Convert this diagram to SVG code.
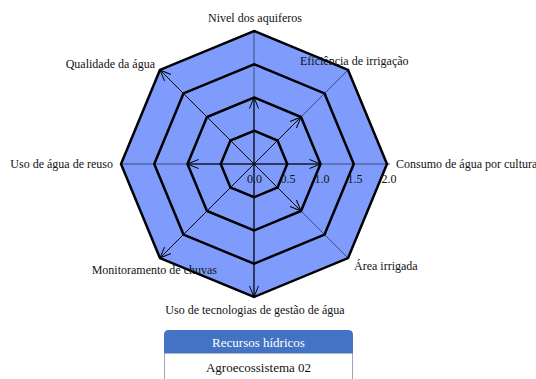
<svg xmlns="http://www.w3.org/2000/svg" width="536" height="379" viewBox="0 0 536 379">
<style>
.lbl{font-family:"Liberation Serif","Times New Roman",serif;font-size:12px;fill:#111}
.tick{font-family:"Liberation Serif","Times New Roman",serif;font-size:12px;fill:#111;text-anchor:middle}
.ring{fill:none;stroke:#000;stroke-width:2.5;stroke-linejoin:miter}
.axis{stroke:#3a4a80;stroke-width:1}
.vec{stroke:#000;stroke-width:1;fill:none}
</style>
<defs>
<marker id="ah" markerUnits="userSpaceOnUse" markerWidth="14" markerHeight="12" refX="0" refY="0" viewBox="-12 -6 14 12" orient="auto">
<path d="M-11,-4.5 L0,0 L-11,4.5" fill="none" stroke="#000" stroke-width="1"/>
</marker>
</defs>
<rect width="536" height="379" fill="#fff"/>
<g id="chart">
<polygon points="254,31 348.05,69.95 387,164 348.05,258.05 254,297 159.95,258.05 121,164 159.95,69.95" fill="#7f9cfc" stroke="none"/>
</g>
<g id="connectors">
<line class="axis" x1="254" y1="164" x2="254" y2="31"/>
<line class="axis" x1="254" y1="164" x2="348.05" y2="69.95"/>
<line class="axis" x1="254" y1="164" x2="390" y2="164"/>
<line class="axis" x1="254" y1="164" x2="348.05" y2="258.05"/>
<line class="axis" x1="254" y1="164" x2="254" y2="297"/>
<line class="axis" x1="254" y1="164" x2="159.95" y2="258.05"/>
<line class="axis" x1="254" y1="164" x2="121" y2="164"/>
<line class="axis" x1="254" y1="164" x2="159.95" y2="69.95"/>
<line class="vec" x1="254" y1="164" x2="254" y2="97.5" marker-end="url(#ah)"/>
<line class="vec" x1="254" y1="164" x2="301.02" y2="116.98" marker-end="url(#ah)"/>
<line class="vec" x1="254" y1="164" x2="320.5" y2="164" marker-end="url(#ah)"/>
<line class="vec" x1="254" y1="164" x2="301.02" y2="211.02" marker-end="url(#ah)"/>
<line class="vec" x1="254" y1="164" x2="254" y2="297" marker-end="url(#ah)"/>
<line class="vec" x1="254" y1="164" x2="159.95" y2="258.05" marker-end="url(#ah)"/>
<line class="vec" x1="254" y1="164" x2="187.5" y2="164" marker-end="url(#ah)"/>
<line class="vec" x1="254" y1="164" x2="159.95" y2="69.95" marker-end="url(#ah)"/>
</g>
<g id="rings">
<polygon class="ring" points="254,31 348.05,69.95 387,164 348.05,258.05 254,297 159.95,258.05 121,164 159.95,69.95"/>
<polygon class="ring" points="254,64.25 324.53,93.47 353.75,164 324.53,234.53 254,263.75 183.47,234.53 154.25,164 183.47,93.47"/>
<polygon class="ring" points="254,97.5 301.02,116.98 320.5,164 301.02,211.02 254,230.5 206.98,211.02 187.5,164 206.98,116.98"/>
<polygon class="ring" points="254,130.75 277.51,140.49 287.25,164 277.51,187.51 254,197.25 230.49,187.51 220.75,164 230.49,140.49"/>
</g>
<g id="ticks">
<text class="tick" x="254.5" y="183">0.0</text>
<text class="tick" x="288" y="183">0.5</text>
<text class="tick" x="322" y="183">1.0</text>
<text class="tick" x="355" y="183">1.5</text>
<text class="tick" x="389" y="183">2.0</text>
</g>
<g id="axis-nivel"><text class="lbl" x="255" y="22" text-anchor="middle">Nivel dos aquiferos</text></g>
<g id="axis-eficiencia"><text class="lbl" x="300" y="65">Eficiência de irrigação</text></g>
<g id="axis-consumo"><text class="lbl" x="396" y="168">Consumo de água por cultura</text></g>
<g id="axis-area"><text class="lbl" x="354" y="270">Área irrigada</text></g>
<g id="axis-tecnologias"><text class="lbl" x="255" y="314" text-anchor="middle">Uso de tecnologias de gestão de água</text></g>
<g id="axis-monitoramento"><text class="lbl" x="217" y="274" text-anchor="end">Monitoramento de chuvas</text></g>
<g id="axis-reuso"><text class="lbl" x="113" y="168" text-anchor="end">Uso de água de reuso</text></g>
<g id="axis-qualidade"><text class="lbl" x="155" y="68" text-anchor="end">Qualidade da água</text></g>
<g id="legend">
<rect x="164.5" y="330.5" width="188" height="60" rx="4" fill="#fff" stroke="#9aa6c0" stroke-width="1"/>
<path d="M164.5,353 V334.5 A4,4 0 0 1 168.5,330.5 H348.5 A4,4 0 0 1 352.5,334.5 V353 Z" fill="#4472c4" stroke="#4472c4" stroke-width="1"/>
<text x="258.5" y="347" text-anchor="middle" font-family="Liberation Serif, Times New Roman, serif" font-size="13" fill="#fff">Recursos hídricos</text>
<text x="258.5" y="372" text-anchor="middle" font-family="Liberation Serif, Times New Roman, serif" font-size="13" fill="#111">Agroecossistema 02</text>
</g>
</svg>
